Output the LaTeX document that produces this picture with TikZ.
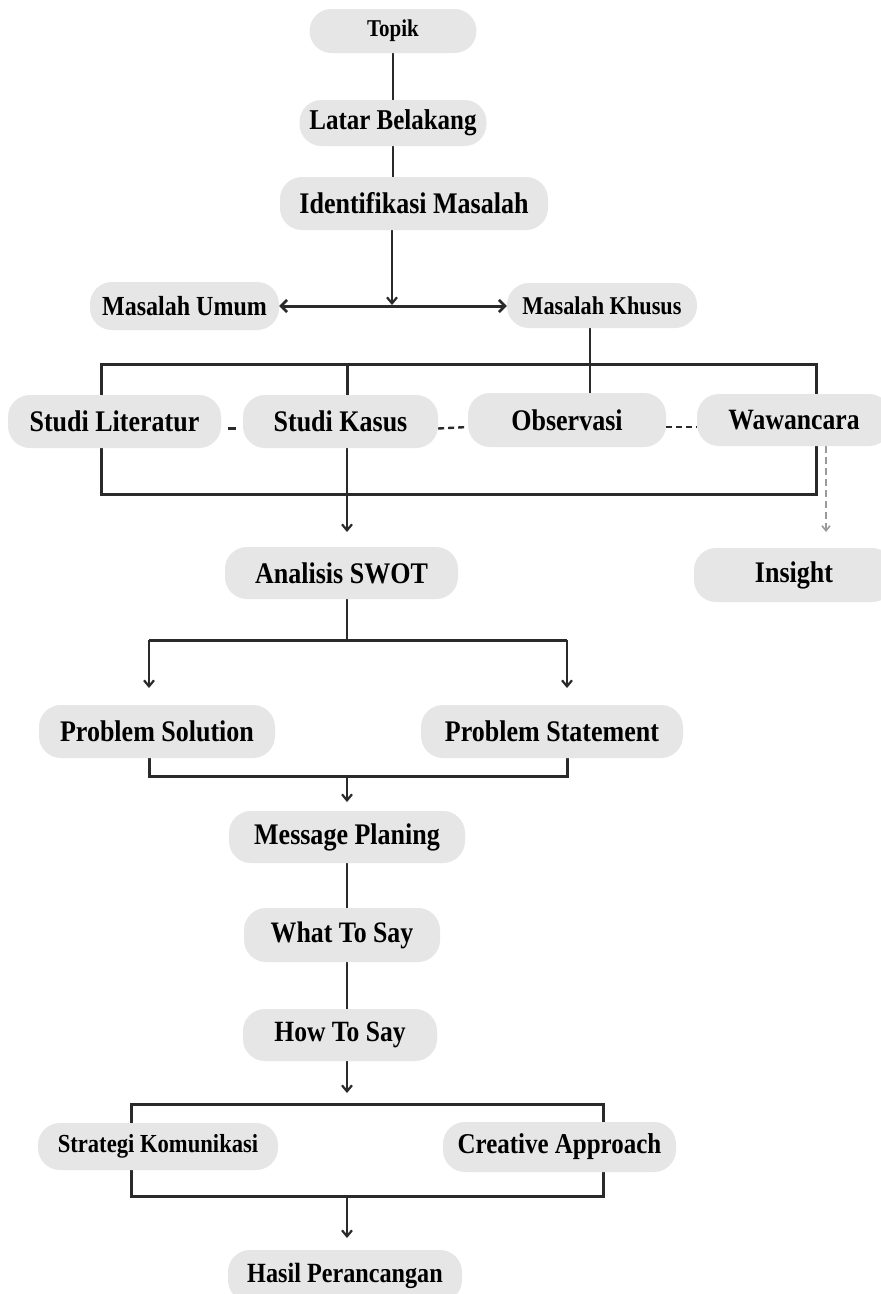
\documentclass[tikz,border=0pt]{standalone}
\usepackage{fontspec}
\setmainfont{Liberation Serif}[FakeStretch=0.87]
\usetikzlibrary{arrows.meta,backgrounds}
\definecolor{boxgray}{HTML}{E6E6E6}
\definecolor{linegray}{HTML}{2A2A2A}
\definecolor{dashgray}{HTML}{9A9A9A}
\newcommand\fsz[1]{\fontsize{#1}{#1}\selectfont\bfseries}
\begin{document}
\begin{tikzpicture}[x=1pt,y=-1pt,
  box/.style={fill=boxgray, rounded corners=22pt, inner sep=0pt, text=black, font=\fsz{29.9}},
  sz/.style 2 args={minimum width=#1pt, minimum height=#2pt},
  ln/.style={draw=linegray, line width=2.4pt},
  brk/.style={draw=linegray, line width=3pt, line join=miter},
  arr/.style={ln, -{Straight Barb[length=6pt,width=10pt,line width=2.2pt]}},
  dbl/.style={draw=linegray, line width=3pt, {Straight Barb[length=6pt,width=12pt,line width=2.6pt]}-{Straight Barb[length=6pt,width=12pt,line width=2.6pt]}},
  dsh/.style={draw=linegray, line width=2.4pt, dash pattern=on 6pt off 4pt},
  darr/.style={draw=dashgray, line width=1.6pt, dash pattern=on 7pt off 4pt, -{Straight Barb[length=5pt,width=8pt]}}]
\useasboundingbox (0,0) rectangle (881,1294);

% nodes
\node[box, sz={167}{44}, font=\fsz{24.1}] (topik) at (393,31) {Topik};
\node[box, sz={187}{46}, font=\fsz{28.7}] (latar) at (393,123) {Latar Belakang};
\node[box, sz={268}{53}, font=\fsz{29.9}] (ident) at (414,203.5) {Identifikasi Masalah};
\node[box, sz={189}{48}, font=\fsz{27.6}] (umum) at (184.5,306) {Masalah Umum};
\node[box, sz={190}{45}, font=\fsz{25.6}] (khusus) at (602,305.5) {Masalah Khusus};
\node[box, sz={213}{53}] (lit) at (114.5,421.5) {Studi Literatur};
\node[box, sz={195}{53}] (kasus) at (340.5,421.5) {Studi Kasus};
\node[box, sz={198}{54}] (obs) at (567,420) {Observasi};
\node[box, sz={194}{52}, font=\fsz{29.5}] (waw) at (794,420) {Wawancara};
\node[box, sz={233}{52}] (swot) at (341.5,573) {Analisis SWOT};
\node[box, sz={200}{54}] (insight) at (794,575) {Insight};
\node[box, sz={236}{53}] (psol) at (157,731.5) {Problem Solution};
\node[box, sz={262}{53}] (pstat) at (552,731.5) {Problem Statement};
\node[box, sz={236}{52}] (mp) at (347,837) {Message Planing};
\node[box, sz={196}{54}, font=\fsz{29.7}] (what) at (342,935) {What To Say};
\node[box, sz={194}{52}, font=\fsz{29.4}] (how) at (340,1035) {How To Say};
\node[box, sz={240}{47}, font=\fsz{26}] (strat) at (158,1146.5) {Strategi Komunikasi};
\node[box, sz={233}{50}, font=\fsz{28.7}] (creat) at (559.5,1147) {Creative Approach};
\node[box, sz={234}{52}, font=\fsz{27.8}] (hasil) at (345,1276) {Hasil Perancangan};

% helper coordinates
\coordinate (j1) at (392,305);
\coordinate (kx) at (347,0);
\coordinate (tbL) at (101,364);
\coordinate (tbR) at (816,364);
\coordinate (bbL) at (101,494);
\coordinate (bbR) at (816,494);
\coordinate (a1) at (347,532);
\coordinate (s1) at (347,640);
\coordinate (s1L) at (149,640);
\coordinate (s1R) at (567,640);
\coordinate (s2L) at (149,688);
\coordinate (s2R) at (567,688);
\coordinate (b3L) at (149,776);
\coordinate (b3R) at (567,776);
\coordinate (a3) at (347,802);
\coordinate (a4) at (347,1093);
\coordinate (b4L) at (131,1104);
\coordinate (b4R) at (603,1104);
\coordinate (b5L) at (131,1196);
\coordinate (b5R) at (603,1196);
\coordinate (a5) at (347,1238);

\begin{scope}[on background layer]
\fill[white] (0,0) rectangle (881,1294);
% top chain
\draw[ln] (topik.south) -- (latar.north);
\draw[ln] (latar.south) -- (latar.south |- ident.north);
\draw[arr] (ident.south -| j1) -- (j1);
\draw[dbl] (umum.east) -- (umum.east -| khusus.west);
\draw[ln] ([xshift=-12pt]khusus.south) -- ([xshift=-12pt]khusus.south |- obs.north);
% top bracket
\draw[brk] (lit.north -| tbL) -- (tbL) -- (tbR) -- (waw.north -| tbR);
\draw[brk] (kasus.north -| kx) -- (kx |- tbL);
% dashed links in row
\draw[ln, shorten <=7pt, shorten >=7pt] ([yshift=-7pt]lit.east) -- ([yshift=-7pt]kasus.west);
\draw[dsh] ([yshift=-7pt]kasus.east) -- ([yshift=-7pt]obs.west);
\draw[dsh] ([yshift=-7pt]obs.east) -- ([yshift=-7pt]waw.west);
% bottom bracket
\draw[brk] (lit.south -| bbL) -- (bbL) -- (bbR) -- (waw.south -| bbR);
\draw[arr] (kasus.south -| a1) -- (a1);
\draw[darr] ([xshift=32pt]waw.south) -- ([xshift=32pt]waw.south |- a1);
% SWOT split
\draw[ln] (swot.south -| s1) -- (s1);
\draw[brk] (s1L) -- (s1R);
\draw[arr] (s1L) -- (s2L);
\draw[arr] (s1R) -- (s2R);
% merge to message planing
\draw[brk] (psol.south -| b3L) -- (b3L) -- (b3R) -- (pstat.south -| b3R);
\draw[arr] (a3 |- b3L) -- (a3);
\draw[ln] (mp.south) -- (mp.south |- what.north);
\draw[ln] (what.south -| mp.south) -- (mp.south |- how.north);
\draw[arr] (how.south -| a4) -- (a4);
% strategy brackets
\draw[brk] (strat.north -| b4L) -- (b4L) -- (b4R) -- (creat.north -| b4R);
\draw[brk] (strat.south -| b5L) -- (b5L) -- (b5R) -- (creat.south -| b5R);
\draw[arr] (a5 |- b5L) -- (a5);
\end{scope}
\end{tikzpicture}
\end{document}
